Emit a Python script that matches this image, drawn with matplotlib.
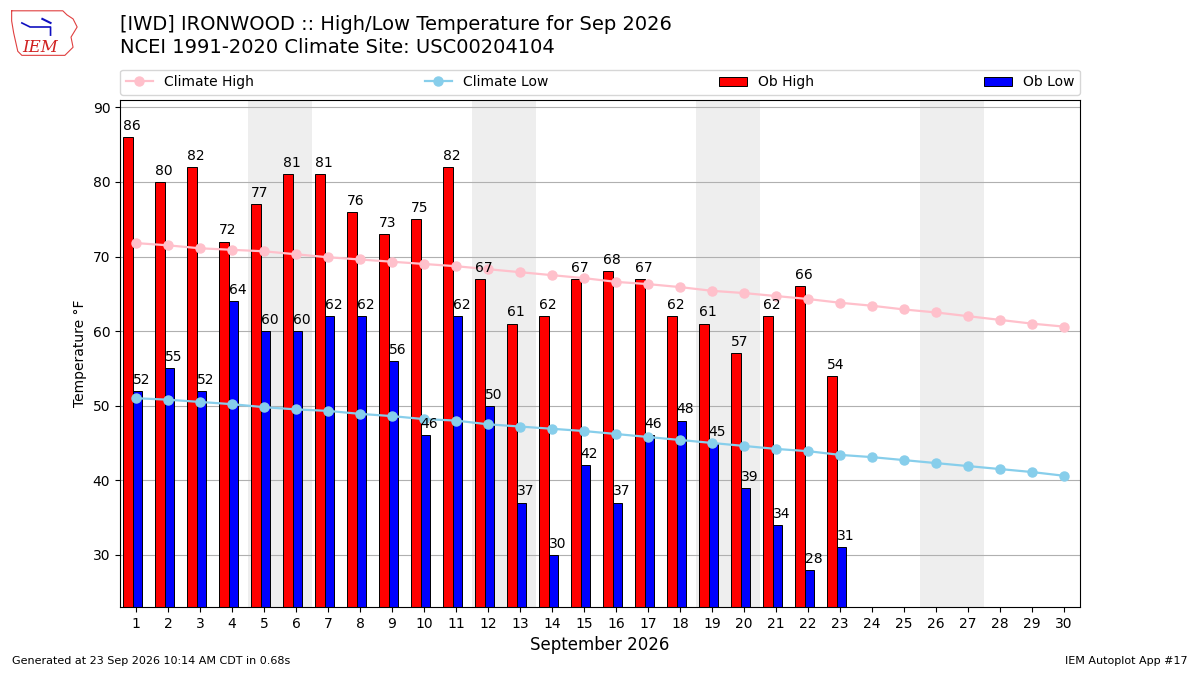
import matplotlib
matplotlib.use("Agg")
import matplotlib.pyplot as plt
from matplotlib.patches import Patch
from matplotlib.lines import Line2D

days = list(range(1, 31))
ob_days = list(range(1, 24))
ob_high = [86, 80, 82, 72, 77, 81, 81, 76, 73, 75, 82, 67, 61, 62, 67, 68, 67, 62, 61, 57, 62, 66, 54]
ob_low = [52, 55, 52, 64, 60, 60, 62, 62, 56, 46, 62, 50, 37, 30, 42, 37, 46, 48, 45, 39, 34, 28, 31]
climate_high = [71.8, 71.5, 71.1, 70.9, 70.7, 70.3, 69.9, 69.6, 69.3, 69.0, 68.7, 68.3, 67.9, 67.5, 67.1,
                66.6, 66.3, 65.9, 65.4, 65.1, 64.7, 64.3, 63.8, 63.4, 62.9, 62.5, 62.0, 61.5, 61.0, 60.6]
climate_low = [51.0, 50.8, 50.5, 50.2, 49.8, 49.5, 49.3, 48.9, 48.6, 48.2, 48.0, 47.5, 47.2, 46.9, 46.6,
               46.2, 45.8, 45.4, 45.0, 44.6, 44.2, 43.9, 43.4, 43.1, 42.7, 42.3, 41.9, 41.5, 41.1, 40.6]
weekends = [(5, 6), (12, 13), (19, 20), (26, 27)]
xtick_labels = [str(d) for d in days]
title_lines = ["[IWD] IRONWOOD :: High/Low Temperature for Sep 2026",
               "NCEI 1991-2020 Climate Site: USC00204104"]

fig = plt.figure(figsize=(12, 6.75), dpi=100)
ax = fig.add_axes([0.1, 0.1007, 0.8, 0.7513])

for a, b in weekends:
    ax.axvspan(a - 0.5, b + 0.5, color="#EEEEEE", zorder=0, lw=0)

bw = 0.3
ax.bar([d - 0.25 for d in ob_days], ob_high, width=bw, color="red", edgecolor="black",
       linewidth=0.7, zorder=2, label="Ob High")
ax.bar([d + 0.05 for d in ob_days], ob_low, width=bw, color="blue", edgecolor="black",
       linewidth=0.7, zorder=2, label="Ob Low")

for d, v in zip(ob_days, ob_high):
    ax.annotate(str(v), (d - 0.4, v), xytext=(0, 3), textcoords="offset points",
                ha="left", va="bottom", fontsize=10, zorder=4)
for d, v in zip(ob_days, ob_low):
    ax.annotate(str(v), (d - 0.1, v), xytext=(0, 3), textcoords="offset points",
                ha="left", va="bottom", fontsize=10, zorder=4)

ax.plot(days, climate_high, color="pink", marker="o", markersize=6.5, lw=1.6, zorder=3,
        label="Climate High")
ax.plot(days, climate_low, color="skyblue", marker="o", markersize=6.5, lw=1.6, zorder=3,
        label="Climate Low")

ax.set_xlim(0.5, 30.5)
ax.set_ylim(min(ob_low) - 5, max(ob_high) + 5)
ax.set_xticks(days)
ax.set_xticklabels(xtick_labels, fontsize=10)
ax.set_yticks([30, 40, 50, 60, 70, 80, 90])
ax.yaxis.grid(True, color="#b0b0b0", lw=0.8, zorder=1)
ax.set_axisbelow(True)
ax.set_xlabel("September 2026", fontsize=12)
ax.set_ylabel("Temperature \u00b0F", fontsize=10)

handles = [Line2D([], [], color="pink", marker="o", markersize=6.5, lw=1.6),
           Line2D([], [], color="skyblue", marker="o", markersize=6.5, lw=1.6),
           Patch(facecolor="red", edgecolor="black", linewidth=0.7),
           Patch(facecolor="blue", edgecolor="black", linewidth=0.7)]
ax.legend(handles, ["Climate High", "Climate Low", "Ob High", "Ob Low"], ncol=4,
          mode="expand", loc="lower left", bbox_to_anchor=(0, 1.01, 1, 0.05),
          fontsize=10, borderaxespad=0.0)

fig.text(0.1, 0.978, title_lines[0], fontsize=14, va="top", ha="left")
fig.text(0.1, 0.943, title_lines[1], fontsize=14, va="top", ha="left")

fig.text(0.01, 0.013, "Generated at 23 Sep 2026 10:14 AM CDT in 0.68s", fontsize=8, ha="left", va="bottom")
fig.text(0.99, 0.013, "IEM Autoplot App #17", fontsize=8, ha="right", va="bottom")

# Simple logo approximation
lax = fig.add_axes([0.008, 0.915, 0.058, 0.075])
lax.set_xlim(0, 68)
lax.set_ylim(0, 50)
lax.axis("off")
lax.plot([2, 52, 56, 62, 66, 60, 62, 54, 12, 8, 4, 2, 2], [46, 46, 42, 38, 30, 20, 10, 2, 2, 6, 24, 36, 46],
         color="#e04040", lw=0.8)
lax.plot([12, 20, 40, 40], [34, 30, 30, 22], color="#1010c0", lw=1.2)
lax.plot([32, 40], [38, 34], color="#1010c0", lw=1.5)
lax.text(12, 5, "IEM", fontsize=12, color="#d02020", family="DejaVu Serif", style="italic")

fig.savefig("out.png", dpi=100)
